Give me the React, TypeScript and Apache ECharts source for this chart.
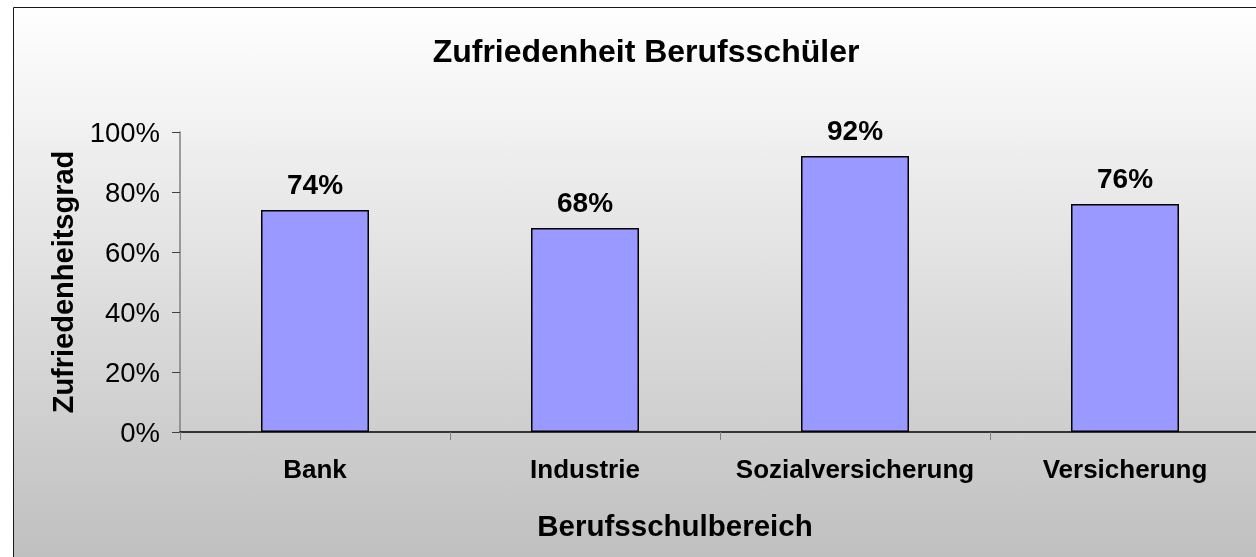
import React, { useEffect, useRef } from "react";
import * as echarts from "echarts";

const categories = ["Bank", "Industrie", "Sozialversicherung", "Versicherung"];
const satisfaction = [0.74, 0.68, 0.92, 0.76];
const yTicks = { min: 0, max: 1, interval: 0.2 };
const titleText = "Zufriedenheit Berufsschüler";
const yAxisName = "Zufriedenheitsgrad";
const xAxisName = "Berufsschulbereich";

const FONT = "'Liberation Sans', Arial, sans-serif";
const pct = (v: number) => `${Math.round(v * 100)}%`;

export default function App() {
  const ref = useRef<HTMLDivElement>(null);
  useEffect(() => {
    if (!ref.current) return;
    const chart = echarts.init(ref.current, null, { renderer: "svg" });
    chart.setOption({
      animation: false,
      textStyle: { fontFamily: FONT },
      title: {
        text: titleText,
        left: 641,
        top: 30,
        textAlign: "center",
        textStyle: { fontFamily: FONT, fontSize: 32, fontWeight: "bold", color: "#000" },
      },
      graphic: [
        {
          type: "rect",
          z: -10,
          silent: true,
          shape: { x: 13.5, y: 7.5, width: 1400, height: 700 },
          style: {
            fill: new echarts.graphic.LinearGradient(0, 7, 0, 560, [
              { offset: 0, color: "#ffffff" },
              { offset: 1, color: "#bfbfbf" },
            ], true),
            stroke: "#1a1a1a",
            lineWidth: 1,
          },
        },
        {
          type: "text",
          x: 675,
          y: 525,
          style: {
            text: xAxisName,
            fontFamily: FONT,
            fontSize: 29.5,
            fontWeight: "bold",
            fill: "#000",
            align: "center",
            verticalAlign: "middle",
          },
        },
      ],
      grid: { left: 180, top: 132, width: 1080, height: 300, containLabel: false },
      xAxis: {
        type: "category",
        data: categories,
        axisLine: { lineStyle: { color: "#000", width: 1.5 } },
        axisTick: { show: true, interval: 0, length: 8, lineStyle: { color: "#808080" } },
        axisLabel: {
          interval: 0,
          margin: 24,
          fontFamily: FONT,
          fontSize: 26,
          fontWeight: "bold",
          color: "#000",
        },
      },
      yAxis: {
        type: "value",
        min: yTicks.min,
        max: yTicks.max,
        interval: yTicks.interval,
        name: yAxisName,
        nameLocation: "middle",
        nameGap: 103,
        nameTextStyle: { fontFamily: FONT, fontSize: 29, fontWeight: "bold", color: "#000" },
        axisLine: { show: true, lineStyle: { color: "#808080", width: 1.5 } },
        axisTick: { show: true, length: 8, lineStyle: { color: "#404040" } },
        splitLine: { show: false },
        axisLabel: {
          margin: 20,
          formatter: (v: number) => pct(v),
          fontFamily: FONT,
          fontSize: 27.5,
          color: "#000",
        },
      },
      series: [
        {
          type: "bar",
          data: satisfaction,
          barWidth: "40%",
          itemStyle: { color: "#9999ff", borderColor: "#000", borderWidth: 1.5 },
          label: {
            show: true,
            position: "top",
            distance: 12,
            formatter: (p: any) => pct(p.value),
            fontFamily: FONT,
            fontSize: 28,
            fontWeight: "bold",
            color: "#000",
          },
        },
      ],
    });
    return () => chart.dispose();
  }, []);
  return (
    <div style={{ position: "fixed", left: 0, top: 0, width: 1256, height: 557, overflow: "hidden" }}>
      <div ref={ref} style={{ width: 1270, height: 557 }} />
    </div>
  );
}
